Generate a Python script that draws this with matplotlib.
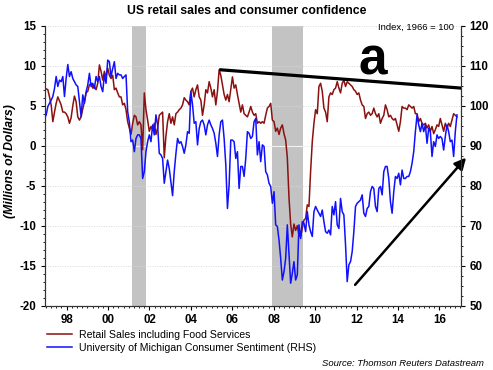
import numpy as np
import matplotlib
matplotlib.use("Agg")
import matplotlib.pyplot as plt
from matplotlib.ticker import MultipleLocator
from matplotlib.lines import Line2D

plt.rcParams['font.family'] = ['Liberation Sans', 'DejaVu Sans']

# ---------------- data ----------------
start_year = 1996.93
end_year = 2016.85

retail_sales = [
    7.2, 7.1, 7.0, 6.1, 5.1, 3.0, 4.2, 5.3, 6.1, 5.6, 5.1, 4.2, 4.2, 4.0, 3.6, 2.8,
    3.5, 5.0, 6.2, 5.5, 3.6, 3.2, 3.6, 4.6, 5.5, 6.6, 6.8, 7.6, 7.8, 7.2, 7.4, 7.0,
    7.8, 10.1, 9.3, 8.2, 9.3, 8.6, 9.7, 8.8, 8.4, 8.8, 7.0, 7.2, 6.6, 6.1, 6.1, 5.1,
    5.3, 4.5, 3.0, 2.2, 1.4, 2.8, 3.8, 3.6, 2.6, 3.0, 2.6, -0.5, 6.6, 4.5, 3.2, 1.8,
    2.4, 2.0, 2.8, 1.4, 2.2, 3.8, 4.0, 4.2, -1.5, 1.2, 3.0, 4.0, 2.8, 3.6, 2.6, 4.0,
    4.2, 4.5, 4.7, 5.1, 6.0, 5.7, 5.5, 5.1, 6.8, 7.2, 6.1, 7.0, 7.6, 6.1, 5.7, 3.8,
    5.1, 7.0, 6.6, 8.0, 7.2, 6.1, 7.0, 5.1, 6.8, 9.5, 8.8, 7.6, 6.4, 5.7, 6.4, 5.5,
    7.0, 8.6, 7.2, 7.6, 6.4, 5.3, 4.2, 5.1, 4.0, 3.8, 3.6, 4.2, 4.9, 4.2, 3.8,
    # 2007 onwards
    4.0, 2.8, 3.0, 2.8, 3.0, 2.8, 3.8, 4.7, 4.9, 5.3, 3.2, 3.0, 1.8, 2.2, 1.4, 2.2,
    2.6, 1.5, 0.7, -1.5, -6.5, -9.8, -11.4, -9.8, -10.6, -10.0, -11.2, -11.4, -10.3,
    -9.3, -9.1, -7.4, -7.6, -3.2, 0.5, 2.8, 4.5, 4.0, 7.4, 7.8, 6.8, 4.7, 4.2, 3.0,
    6.1, 6.6, 6.4, 7.0, 7.2, 8.0, 7.2, 6.6, 7.8, 8.2, 7.4, 8.0, 7.8, 7.6, 7.4, 7.0,
    6.8, 6.4, 6.6, 5.7, 5.1, 4.9, 3.4, 4.0, 4.2, 3.8, 4.0, 4.7, 4.0, 3.6, 4.0, 2.8,
    3.4, 3.8, 5.1, 4.5, 3.6, 3.8, 3.4, 3.2, 3.4, 2.6, 1.8, 3.0, 4.9, 4.7, 4.7, 4.5,
    5.1, 4.9, 4.7, 4.9, 4.0, 4.0, 3.0, 3.4, 2.8, 2.6, 2.8, 2.2, 2.6, 1.8, 2.4, 1.5,
    2.0, 2.6, 2.4, 3.4, 2.6, 1.8, 2.8, 2.2, 2.8, 2.4, 3.2, 4.0, 3.8, 3.6,
]

consumer_sentiment = [
    96.8, 97.7, 99.8, 100.6, 101.4, 102.3, 104.3, 107.3, 104.8, 106.4, 106.0, 107.3,
    102.3, 106.8, 110.3, 107.3, 108.5, 106.8, 106.0, 105.2, 104.8, 101.0, 97.3, 102.7,
    100.6, 103.5, 105.2, 108.1, 104.8, 105.6, 104.3, 107.3, 106.0, 107.3, 104.8, 103.5,
    107.7, 105.6, 111.4, 111.0, 107.3, 109.3, 111.0, 106.8, 108.1, 107.7, 107.7, 106.8,
    107.3, 107.7, 98.5, 96.0, 91.0, 91.4, 88.5, 91.8, 92.7, 92.7, 91.8, 81.8,
    83.5, 88.5, 91.0, 92.7, 91.0, 95.2, 92.7, 97.7, 95.2, 88.1, 87.7, 86.8,
    80.6, 83.5, 86.4, 84.3, 81.0, 77.5, 83.5, 88.0, 91.8, 90.6, 91.0, 89.8,
    88.1, 90.2, 93.5, 93.1, 103.5, 100.2, 95.6, 96.0, 90.2, 94.3, 96.0, 96.4,
    95.2, 92.7, 95.2, 96.4, 95.2, 94.3, 93.1, 90.6, 87.3, 92.7, 96.0, 96.4,
    91.8, 85.2, 74.3, 80.2, 91.4, 91.4, 91.0, 86.8, 88.5, 79.3, 84.8, 84.8,
    82.3, 86.8, 93.5, 93.1, 91.8, 92.3, 96.0,
    # 2007 onwards
    96.8, 87.7, 91.0, 86.0, 90.2, 89.8, 83.5, 82.7, 80.6, 79.8, 75.6, 78.5,
    70.2, 69.8, 66.4, 61.8, 56.4, 58.5, 61.8, 70.2, 62.7, 55.6, 58.1, 61.0,
    56.4, 57.7, 70.2, 66.8, 71.0, 70.6, 68.5, 73.5, 70.2, 68.5, 67.3, 73.5,
    74.8, 73.9, 73.1, 72.3, 73.9, 71.0, 68.5, 68.1, 68.9, 67.7, 74.8, 72.7,
    76.0, 70.2, 69.3, 76.8, 73.5, 72.7, 65.2, 56.0, 60.2, 61.0, 63.5, 68.5,
    74.8, 75.6, 76.0, 76.4, 77.7, 73.1, 72.3, 74.3, 74.8, 78.5, 79.8, 79.3,
    74.8, 73.5, 79.3, 79.8, 77.7, 83.5, 84.8, 84.8, 81.8, 76.0, 73.1, 78.5,
    82.3, 81.8, 83.1, 80.2, 83.9, 81.8, 81.8, 82.3, 82.3, 83.5, 85.6, 88.5,
    93.5, 97.7, 95.2, 93.5, 95.6, 93.5, 95.2, 90.6, 94.3, 93.5, 87.3, 91.0,
    89.8, 92.7, 91.8, 92.3, 91.8, 88.9, 92.3, 95.2, 93.5, 91.0, 91.4, 87.3,
    93.5, 97.7,
]

recessions = [(2001.16, 2001.83), (2007.90, 2009.42)]
trend_x = [2005.37, 2017.05]
trend_y = [9.5, 7.2]
arrow_start = (2011.93, -17.4)
arrow_end = (2017.29, -1.5)

year_ticks = [1998, 2000, 2002, 2004, 2006, 2008, 2010, 2012, 2014, 2016]
year_labels = ["98", "00", "02", "04", "06", "08", "10", "12", "14", "16"]
left_ticks = [-20, -15, -10, -5, 0, 5, 10, 15]
right_ticks = [50, 60, 70, 80, 90, 100, 110, 120]

RED = '#8B1010'
BLUE = '#1010FF'

# ---------------- figure ----------------
fig = plt.figure(figsize=(4.93, 3.70), dpi=100)
ax = fig.add_axes([0.0903, 0.174, 0.845, 0.7565])
ax2 = ax.twinx()

years_r = np.linspace(start_year, end_year, len(retail_sales))
years_s = np.linspace(start_year, end_year, len(consumer_sentiment))

for a, b in recessions:
    ax.axvspan(a, b, color='#C3C3C3', zorder=0, lw=0)

ax.set_xlim(start_year, 2017.05)
ax.set_ylim(-20, 15)
ax2.set_ylim(50, 120)

for t in left_ticks[1:]:
    ax.axhline(t, color='#d8d8d8', lw=0.7, ls=(0, (1, 1.5)), zorder=0.5)
ax.axhline(0, color='#f2f2f2', lw=0.8, zorder=0.6)

ax.plot(years_r, retail_sales, color=RED, lw=1.1, zorder=2)
ax2.plot(years_s, consumer_sentiment, color=BLUE, lw=1.1, zorder=2)

ax.plot(trend_x, trend_y, color='black', lw=2.3, solid_capstyle='butt',
        clip_on=False, zorder=5)
ax.annotate('', xy=arrow_end, xytext=arrow_start,
            arrowprops=dict(arrowstyle='-|>', color='black', lw=1.8,
                            mutation_scale=17, shrinkA=0, shrinkB=0),
            annotation_clip=False, zorder=5)

# ticks
ax.set_xticks(year_ticks)
ax.set_xticklabels(year_labels, fontsize=8.3, fontweight='bold')
ax.xaxis.set_minor_locator(MultipleLocator(0.25))
ax.set_yticks(left_ticks)
ax.set_yticklabels([str(t) for t in left_ticks], fontsize=8.3, fontweight='bold')
ax.yaxis.set_minor_locator(MultipleLocator(1))
ax2.set_yticks(right_ticks)
ax2.set_yticklabels([str(t) for t in right_ticks], fontsize=8.3, fontweight='bold')
ax2.yaxis.set_minor_locator(MultipleLocator(2.5))

ax.tick_params(axis='x', which='major', direction='out', length=3, pad=3, width=0.8)
ax.tick_params(axis='x', which='minor', direction='out', length=1.5, width=0.6)
ax.tick_params(axis='y', which='major', direction='out', length=3, pad=3, width=0.8)
ax.tick_params(axis='y', which='minor', direction='out', length=1.5, width=0.6)
ax2.tick_params(axis='y', which='major', direction='out', length=3, pad=3, width=0.8)
ax2.tick_params(axis='y', which='minor', direction='out', length=1.5, width=0.6)

for a_ in (ax, ax2):
    a_.spines['top'].set_visible(False)
    for s in ('left', 'right', 'bottom'):
        a_.spines[s].set_linewidth(0.8)
        a_.spines[s].set_color('#333333')

# texts
fig.text(247 / 493, 1 - 11 / 370, 'US retail sales and consumer confidence',
         ha='center', va='center', fontsize=8.8, fontweight='bold')
fig.text(454 / 493, 1 - 27 / 370, 'Index, 1966 = 100', ha='right', va='center',
         fontsize=6.8)
fig.text(10 / 493, 1 - 161 / 370, '(Millions of Dollars)', rotation=90,
         ha='center', va='center', fontsize=8.8, fontweight='bold', style='italic')
fig.text(373 / 493, 1 - 61 / 370, 'a', ha='center', va='center',
         fontsize=37, fontweight='bold')
fig.text(484 / 493, 1 - 363 / 370, 'Source: Thomson Reuters Datastream',
         ha='right', va='center', fontsize=6.8, style='italic')

handles = [Line2D([], [], color=RED, lw=1.1),
           Line2D([], [], color=BLUE, lw=1.1)]
fig.legend(handles, ['Retail Sales including Food Services',
                     'University of Michigan Consumer Sentiment (RHS)'],
           loc='upper left', bbox_to_anchor=(47 / 493, 1 - 330 / 370),
           frameon=False, fontsize=7.6, handlelength=2.4, handletextpad=0.6,
           labelspacing=0.3, borderpad=0, borderaxespad=0)

fig.savefig('out.png', dpi=100)
